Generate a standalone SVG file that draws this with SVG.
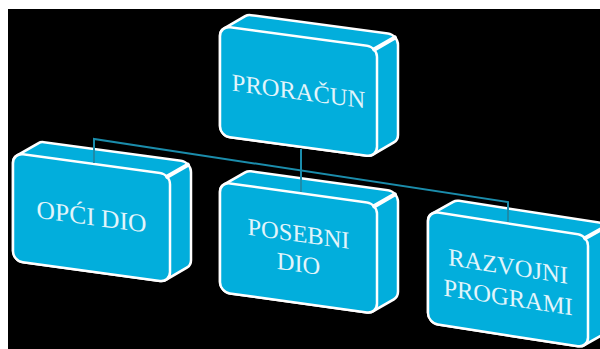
<svg xmlns="http://www.w3.org/2000/svg" width="600" height="349" viewBox="0 0 600 349">
  <style>
    .body { fill: #02AEDC; stroke: #FFFFFF; stroke-width: 2.5; stroke-linejoin: round; }
    .face { fill: #02AEDC; stroke: #FFFFFF; stroke-width: 2.5; }
    .bevel { stroke: #FFFFFF; stroke-width: 4; stroke-linecap: round; fill: none; }
    .lbl { font-family: "Liberation Serif", "Times New Roman", serif; font-size: 24.5px; fill: #E2F5FB; text-anchor: middle; }
    .conn { fill: none; stroke: #1B8CAB; stroke-width: 2; }
  </style>
  <rect x="0" y="0" width="600" height="349" fill="#FFFFFF"/>
  <rect x="8" y="9" width="592" height="340" fill="#000000"/>

  <g id="node-proracun" transform="translate(220,26) skewY(7.63)">
    <path class="body" d="M0,10 A10,10 0 0 1 4.19,1.86 L25.19,-13.14 A10,10 0 0 1 31,-15 L168,-15 A10,10 0 0 1 178,-5 L178,85 A10,10 0 0 1 173.81,93.14 L152.81,108.14 A10,10 0 0 1 147,110 L10,110 A10,10 0 0 1 0,100 Z"/>
    <rect class="face" x="0" y="0" width="157" height="110" rx="10"/>
    <line class="bevel" x1="154" y1="3" x2="175" y2="-12"/>
    <text class="lbl" x="78.5" y="63">PRORAČUN</text>
  </g>

  <g id="node-opci-dio" transform="translate(13,153) skewY(7.7)">
    <path class="body" d="M0,10 A10,10 0 0 1 4.19,1.86 L25.19,-13.14 A10,10 0 0 1 31,-15 L168,-15 A10,10 0 0 1 178,-5 L178,83 A10,10 0 0 1 173.81,91.14 L152.81,106.14 A10,10 0 0 1 147,108 L10,108 A10,10 0 0 1 0,98 Z"/>
    <rect class="face" x="0" y="0" width="157" height="108" rx="10"/>
    <line class="bevel" x1="154" y1="3" x2="175" y2="-12"/>
    <text class="lbl" x="78.5" y="61.5" style="font-size:25.5px">OPĆI DIO</text>
  </g>

  <g id="node-posebni-dio" transform="translate(220,182) skewY(7.9)">
    <path class="body" d="M0,10 A10,10 0 0 1 4.19,1.86 L25.19,-13.14 A10,10 0 0 1 31,-15 L168,-15 A10,10 0 0 1 178,-5 L178,85 A10,10 0 0 1 173.81,93.14 L152.81,108.14 A10,10 0 0 1 147,110 L10,110 A10,10 0 0 1 0,100 Z"/>
    <rect class="face" x="0" y="0" width="157" height="110" rx="10"/>
    <line class="bevel" x1="154" y1="3" x2="175" y2="-12"/>
    <text class="lbl" x="78.5" y="49">POSEBNI</text>
    <text class="lbl" x="78.5" y="79">DIO</text>
  </g>

  <g id="node-razvojni-programi" transform="translate(428,211) skewY(8.8)">
    <path class="body" d="M0,10 A10,10 0 0 1 4.19,1.86 L25.19,-13.14 A10,10 0 0 1 31,-15 L171,-15 A10,10 0 0 1 181,-5 L181,87 A10,10 0 0 1 176.81,95.14 L155.81,110.14 A10,10 0 0 1 150,112 L10,112 A10,10 0 0 1 0,102 Z"/>
    <rect class="face" x="0" y="0" width="160" height="112" rx="10"/>
    <line class="bevel" x1="157" y1="3" x2="178" y2="-12"/>
    <text class="lbl" x="80" y="51">RAZVOJNI</text>
    <text class="lbl" x="80" y="82">PROGRAMI</text>
  </g>

  <g id="connectors">
    <path class="conn" d="M94,163 L94,139 L508,202 L508,222"/>
    <path class="conn" d="M301,149 L301,192"/>
  </g>
</svg>
